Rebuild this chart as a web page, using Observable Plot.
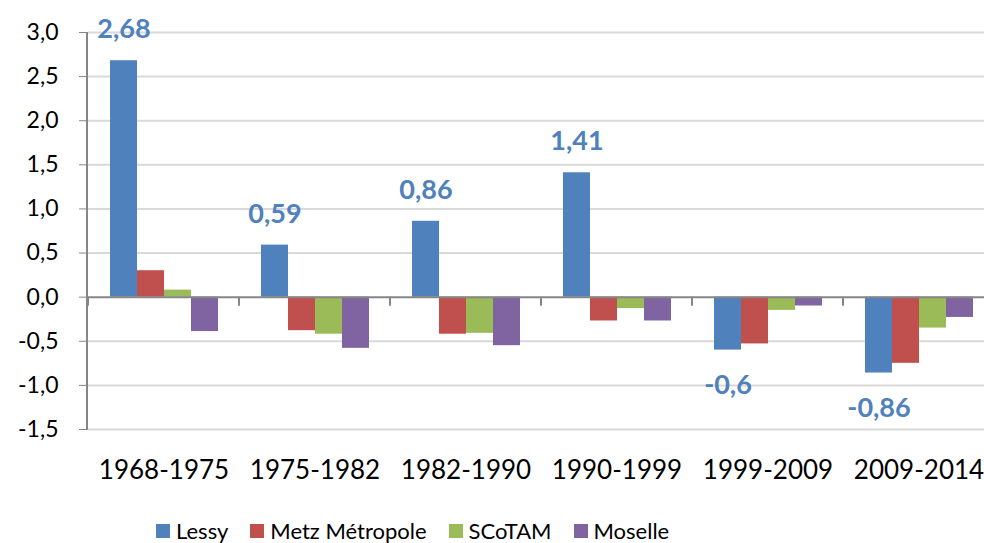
<!DOCTYPE html>
<html><head><meta charset="utf-8">
<script src="https://cdn.jsdelivr.net/npm/d3@7"></script>
<script src="https://cdn.jsdelivr.net/npm/@observablehq/plot@0.6"></script>
<style>
body{margin:0;background:#fff;font-family:Lato,sans-serif;}
#wrap{position:relative;width:984px;height:543px;overflow:hidden;}
#chart{position:absolute;left:0;top:0;width:995px;}
#chart svg{max-width:none !important;}
#legend{position:absolute;top:517px;left:156px;display:flex;align-items:center;height:28px;font-size:22px;line-height:1;color:#000;white-space:nowrap;}
#legend .item{display:flex;align-items:center;margin-right:22px;}
#legend .sw{width:14px;height:14px;margin-right:6px;}
</style></head><body>
<div id="wrap"><div id="chart"></div><div id="legend"></div></div>
<script>
const periods = ["1968-1975","1975-1982","1982-1990","1990-1999","1999-2009","2009-2014"];
const seriesNames = ["Lessy","Metz Métropole","SCoTAM","Moselle"];
const lessy   = [2.68, 0.59, 0.86, 1.41, -0.6, -0.86];
const metz    = [0.30, -0.38, -0.42, -0.27, -0.53, -0.75];
const scotam  = [0.08, -0.42, -0.41, -0.13, -0.15, -0.35];
const moselle = [-0.39, -0.58, -0.55, -0.27, -0.10, -0.23];
const colors = ["#4f81bd","#c0504d","#9bbb59","#8064a2"];
const yTicks = [-1.5,-1,-0.5,0,0.5,1,1.5,2,2.5,3];

const seriesValues = [lessy, metz, scotam, moselle];
const rows = [];
periods.forEach((p, i) => seriesNames.forEach((s, j) => rows.push({period: p, series: s, value: seriesValues[j][i]})));
const lessyRows = periods.map((p, i) => ({period: p, series: "Lessy", value: lessy[i], label: String(lessy[i]).replace(".", ",")}));

const chart = Plot.plot({
  width: 995, height: 500,
  marginLeft: 87, marginRight: 0, marginTop: 32, marginBottom: 71,
  style: {fontFamily: "Lato, sans-serif", fontSize: "23px", color: "#000", background: "#fff", maxWidth: "none"},
  fx: {domain: periods, padding: 0, label: null},
  x: {domain: seriesNames, paddingInner: 0, paddingOuter: 0.74, axis: null},
  y: {domain: [-1.5, 3]},
  color: {domain: seriesNames, range: colors},
  marks: [
    Plot.ruleY(yTicks.filter(d => d !== 0), {stroke: "#d9d9d9", strokeWidth: 2}),
    Plot.barY(rows, {fx: "period", x: "series", y: "value", fill: "series"}),
    Plot.ruleY([0], {stroke: "#868686", strokeWidth: 2}),
    Plot.text(lessyRows.filter(d => d.value >= 0), {fx: "period", x: "series", y: "value", text: "label", dy: -31, fill: "#4f81bd", fontWeight: "bold", fontSize: 27}),
    Plot.text(lessyRows.filter(d => d.value < 0), {fx: "period", x: "series", y: "value", text: "label", dy: 35, fill: "#4f81bd", fontWeight: "bold", fontSize: 27}),
    Plot.axisY(yTicks, {tickSize: 9, tickPadding: 21, tickFormat: v => v.toFixed(1).replace(".", ","), stroke: "#868686", fill: "#000", fontSize: 23, label: null}),
    Plot.axisFx({anchor: "bottom", tickSize: 0, tickPadding: 31, fontSize: 26, fill: "#000", label: null})
  ]
});
document.getElementById("chart").appendChild(chart);

// y-axis line and category boundary ticks, placed with Plot's own scales
const fx = chart.scale("fx"), y = chart.scale("y");
const svg = d3.select(chart);
const g = svg.append("g").attr("stroke", "#868686").attr("stroke-width", 2);
g.append("line").attr("x1", fx.range[0]).attr("x2", fx.range[0]).attr("y1", y.apply(3)).attr("y2", y.apply(-1.5));
periods.forEach(p => {
  const x0 = fx.apply(p);
  g.append("line").attr("x1", x0).attr("x2", x0).attr("y1", y.apply(0)).attr("y2", y.apply(0) + 9);
});

const legend = d3.select("#legend");
seriesNames.forEach((s, i) => {
  const it = legend.append("div").attr("class", "item");
  it.append("div").attr("class", "sw").style("background", colors[i]);
  it.append("span").text(s);
});
</script>
</body></html>
